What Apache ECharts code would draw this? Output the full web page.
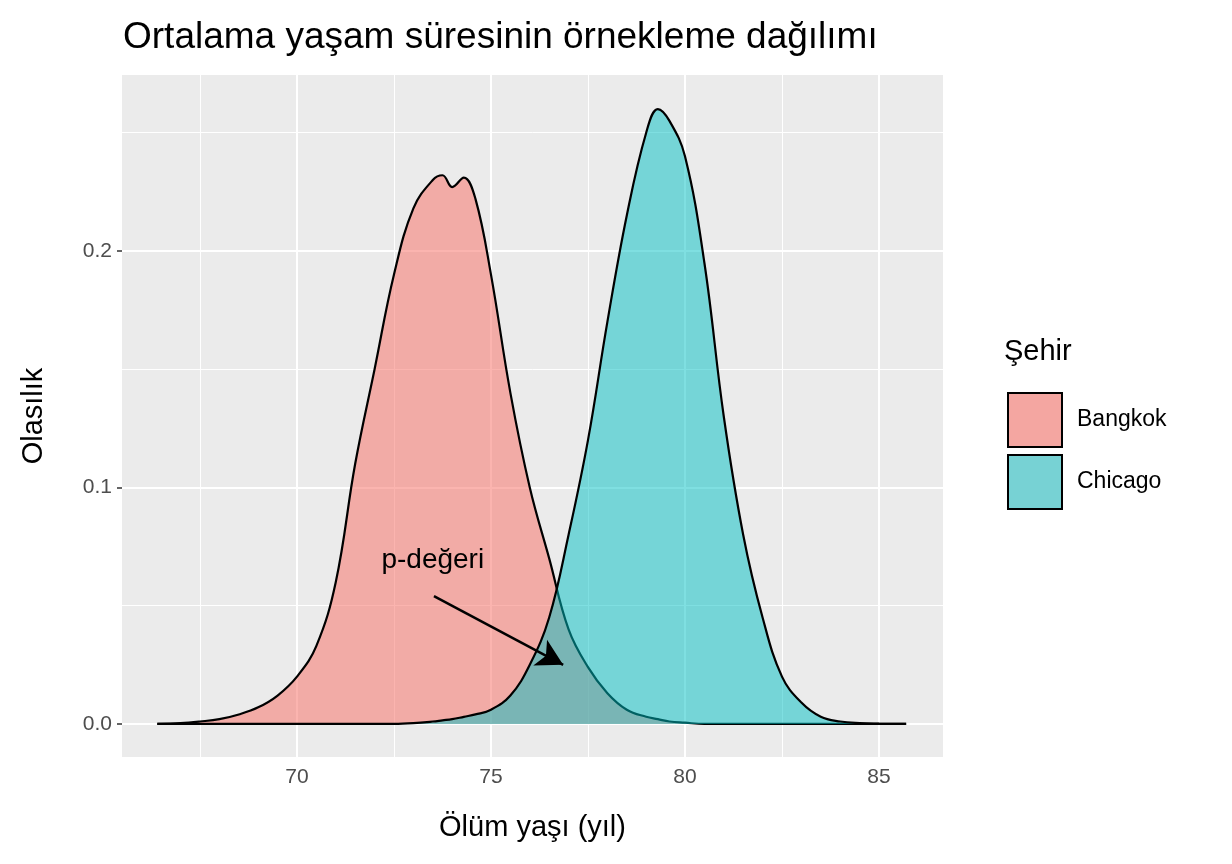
<!DOCTYPE html>
<html><head><meta charset="utf-8">
<script src="https://cdn.jsdelivr.net/npm/echarts@6/dist/echarts.min.js"></script>
<style>html,body{margin:0;padding:0;background:#fff}#c{width:1232px;height:864px}</style>
</head><body><div id="c"></div>
<script>
const xs = [66.4,67,67.5,68,68.5,69,69.5,70,70.5,71,71.5,72,72.5,73,73.5,73.75,74,74.3,74.6,75,75.5,76,76.5,77,77.5,78,78.5,79,79.3,79.6,80,80.5,81,81.5,82,82.5,83,83.5,84,84.5,85,85.7];
const bangkok = [0,0.0003,0.001,0.002,0.004,0.007,0.012,0.02,0.033,0.06,0.11,0.15,0.19,0.218,0.23,0.232,0.227,0.231,0.222,0.19,0.14,0.1,0.07,0.04,0.024,0.013,0.006,0.003,0.002,0.001,0.0005,0,0,0,0,0,0,0,0,0,0,0];
const chicago = [0,0,0,0,0,0,0,0,0,0,0,0,0,0.0003,0.001,0.0015,0.002,0.003,0.004,0.006,0.012,0.025,0.045,0.08,0.12,0.17,0.215,0.25,0.26,0.255,0.24,0.195,0.13,0.08,0.045,0.02,0.009,0.003,0.001,0.0003,0.0001,0];
const cities = ['Bangkok','Chicago'];
const xTicks = [70,75,80,85], xMinor = [67.5,72.5,77.5,82.5];
const yTicks = [0,0.1,0.2], yMinor = [0.05,0.15,0.25];
const XMIN=65.49, XMAX=86.65, YMIN=-0.014, YMAX=0.2744;

const grey='#4d4d4d';
const gridLines = [];
xTicks.forEach(v=>gridLines.push({xAxis:v,lineStyle:{width:2}}));
xMinor.forEach(v=>gridLines.push({xAxis:v,lineStyle:{width:1}}));
yTicks.forEach(v=>gridLines.push({yAxis:v,lineStyle:{width:2}}));
yMinor.forEach(v=>gridLines.push({yAxis:v,lineStyle:{width:1}}));

const chart = echarts.init(document.getElementById('c'));
chart.setOption({
  animation:false,
  backgroundColor:'#fff',
  title:[{text:'Ortalama yaşam süresinin örnekleme dağılımı',left:118,top:14,textStyle:{fontFamily:'Liberation Sans',fontSize:37,fontWeight:'normal',color:'#000'}},
         {text:'Şehir',left:999,top:332,textStyle:{fontFamily:'Liberation Sans',fontSize:29,fontWeight:'normal',color:'#000'}}],
  grid:{left:122,right:289,top:75,bottom:107,backgroundColor:'#ebebeb',show:true,borderWidth:0},
  legend:{orient:'vertical',left:1002,top:387,itemWidth:54,itemHeight:54,itemGap:6,icon:'rect',
    textStyle:{fontFamily:'Liberation Sans',fontSize:23,color:'#000',padding:[0,0,0,10]},
    data:[{name:'Bangkok',itemStyle:{color:'#f4a6a1',borderColor:'#000',borderWidth:2}},
          {name:'Chicago',itemStyle:{color:'#77d2d4',borderColor:'#000',borderWidth:2}}]},
  xAxis:{type:'value',min:XMIN,max:XMAX,splitLine:{show:false},
    axisLine:{show:false},
    axisTick:{show:true,customValues:xTicks,length:5,lineStyle:{color:'#333',width:1.5}},
    axisLabel:{customValues:xTicks,fontFamily:'Liberation Sans',fontSize:21,color:grey,margin:10},
    name:'Ölüm yaşı (yıl)',nameLocation:'middle',nameGap:56,nameTextStyle:{fontFamily:'Liberation Sans',fontSize:29,color:'#000'}},
  yAxis:{type:'value',min:YMIN,max:YMAX,splitLine:{show:false},
    axisLine:{show:false},
    axisTick:{show:true,customValues:yTicks,length:5,lineStyle:{color:'#333',width:1.5}},
    axisLabel:{customValues:yTicks,fontFamily:'Liberation Sans',fontSize:21,color:grey,margin:10,formatter:v=>v.toFixed(1)},
    name:'Olasılık',nameLocation:'middle',nameGap:74,nameTextStyle:{fontFamily:'Liberation Sans',fontSize:29,color:'#000'}},
  series:[
    {type:'line',name:'grid',data:[],silent:true,z:1,
      markLine:{silent:true,z:1,symbol:['none','none'],label:{show:false},lineStyle:{color:'#fff',type:'solid'},data:gridLines}},
    {type:'line',name:cities[0],z:3,data:xs.map((x,i)=>[x,bangkok[i]]),smooth:0.4,showSymbol:false,
      lineStyle:{color:'#000',width:2.2},itemStyle:{color:'#f4a6a1'},areaStyle:{color:'#F8766D',opacity:0.55}},
    {type:'line',name:cities[1],z:4,data:xs.map((x,i)=>[x,chicago[i]]),smooth:0.4,showSymbol:false,
      lineStyle:{color:'#000',width:2.2},itemStyle:{color:'#77d2d4'},areaStyle:{color:'#00BFC4',opacity:0.5},
      markLine:{silent:true,symbol:['none','arrow'],symbolSize:[22,26],label:{show:false},lineStyle:{color:'#000',width:2.5,type:'solid'},
        data:[[{coord:[73.53,0.054]},{coord:[76.86,0.025]}]]},
      markPoint:{symbol:'circle',symbolSize:0,label:{show:true,position:'inside',formatter:'p-değeri',fontFamily:'Liberation Sans',fontSize:28,color:'#000'},
        data:[{coord:[73.5,0.069]}]}}
  ]
});
</script></body></html>
